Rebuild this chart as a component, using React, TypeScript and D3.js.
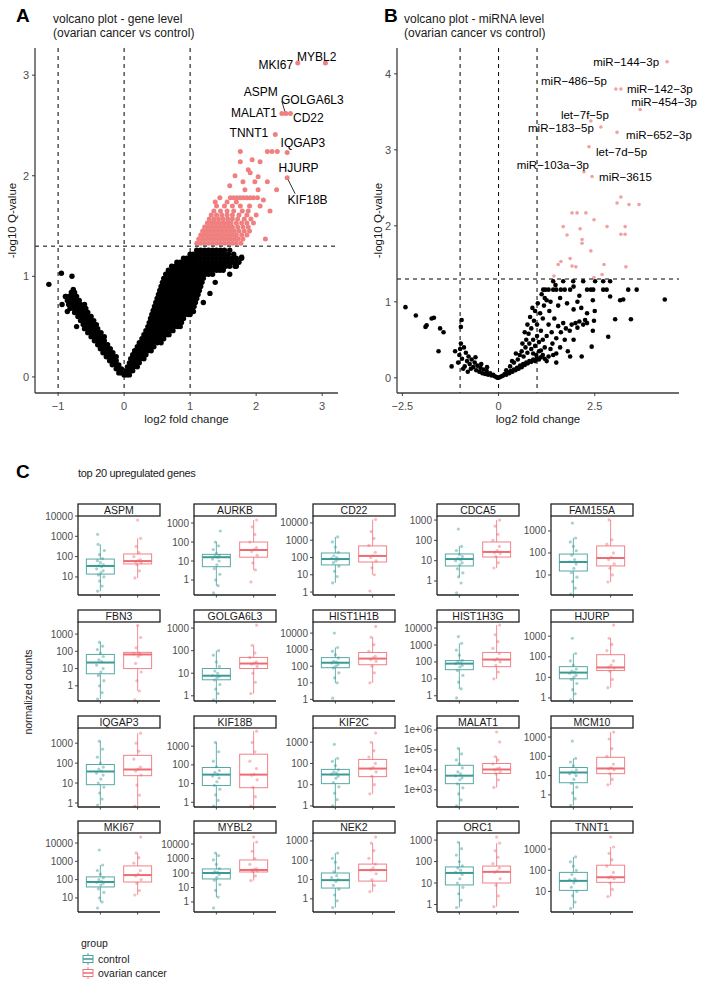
import React from "react";
import * as d3 from "d3";

const FONT = "Liberation Sans, Arial, Helvetica, sans-serif";

// ---------------- Panel A: gene-level volcano (log2 FC, -log10 Q) ----------------
// rows: [ -log10 Q , list of log2 FC values ]
const geneNsRows: [number, number[]][] = [
  [0.04, [-0.08, -0.04]], [0.08, [-0.12, -0.08, -0.04]], [0.12, [-0.18, -0.13, -0.08]],
  [0.16, [-0.22, -0.17, -0.12]], [0.2, [-0.27, -0.22, -0.17, -0.12]], [0.24, [-0.32, -0.27, -0.22, -0.17]],
  [0.28, [-0.36, -0.31, -0.26, -0.21]], [0.32, [-0.4, -0.35, -0.3, -0.25]], [0.36, [-0.45, -0.4, -0.35, -0.3]],
  [0.4, [-0.5, -0.45, -0.4, -0.35, -0.3]], [0.44, [-0.55, -0.5, -0.45, -0.4, -0.35]],
  [0.48, [-0.6, -0.55, -0.5, -0.45, -0.4]], [0.52, [-0.62, -0.57, -0.52, -0.47, -0.42]],
  [0.56, [-0.66, -0.61, -0.56, -0.51, -0.46]], [0.6, [-0.7, -0.65, -0.6, -0.55, -0.5]],
  [0.64, [-0.75, -0.7, -0.65, -0.6, -0.55]], [0.68, [-0.82, -0.76, -0.7, -0.64, -0.58]],
  [0.72, [-0.84, -0.78, -0.72, -0.66, -0.6]], [0.76, [-0.86, -0.8, -0.74, -0.68]],
  [0.8, [-0.88, -0.83, -0.78, -0.72]], [0.84, [-0.8, -0.75]],
  [0.02, [0, 0.04, 0.08]], [0.06, [0.03, 0.08, 0.13]], [0.1, [0.05, 0.1, 0.15, 0.2]],
  [0.14, [0.08, 0.13, 0.18, 0.23]], [0.18, [0.1, 0.15, 0.2, 0.25, 0.3]],
  [0.22, [0.13, 0.18, 0.23, 0.28, 0.33]], [0.26, [0.16, 0.21, 0.26, 0.31, 0.36, 0.41]],
  [0.3, [0.2, 0.25, 0.3, 0.35, 0.4, 0.45]], [0.34, [0.23, 0.28, 0.33, 0.38, 0.43, 0.5, 0.56]],
  [0.38, [0.27, 0.32, 0.37, 0.42, 0.48, 0.54, 0.6]],
  [0.42, [0.3, 0.35, 0.4, 0.45, 0.5, 0.55, 0.6, 0.65, 0.68]],
  [0.46, [0.33, 0.38, 0.43, 0.48, 0.53, 0.58, 0.63, 0.68, 0.74]],
  [0.5, [0.36, 0.41, 0.46, 0.51, 0.56, 0.61, 0.66, 0.71, 0.76, 0.81, 0.85]],
  [0.54, [0.38, 0.43, 0.48, 0.53, 0.58, 0.63, 0.68, 0.73, 0.78, 0.83, 0.87]],
  [0.58, [0.4, 0.45, 0.5, 0.55, 0.6, 0.65, 0.7, 0.75, 0.8, 0.85, 0.9]],
  [0.62, [0.42, 0.47, 0.52, 0.57, 0.62, 0.67, 0.72, 0.77, 0.82, 0.87, 0.92, 0.97, 1.0]],
  [0.66, [0.44, 0.49, 0.54, 0.59, 0.64, 0.69, 0.74, 0.79, 0.84, 0.89, 0.94, 0.99, 1.03]],
  [0.7, [0.46, 0.51, 0.56, 0.61, 0.66, 0.71, 0.76, 0.81, 0.86, 0.91, 0.96, 1.01, 1.06]],
  [0.74, [0.48, 0.53, 0.58, 0.63, 0.68, 0.73, 0.78, 0.83, 0.88, 0.93, 0.98, 1.03, 1.08]],
  [0.78, [0.5, 0.55, 0.6, 0.65, 0.7, 0.75, 0.8, 0.85, 0.9, 0.95, 1.0, 1.05, 1.1]],
  [0.82, [0.52, 0.57, 0.62, 0.67, 0.72, 0.77, 0.82, 0.87, 0.92, 0.97, 1.02, 1.07, 1.12]],
  [0.86, [0.54, 0.59, 0.64, 0.69, 0.74, 0.79, 0.84, 0.89, 0.94, 0.99, 1.04, 1.09, 1.14]],
  [0.9, [0.56, 0.61, 0.66, 0.71, 0.76, 0.81, 0.86, 0.91, 0.96, 1.01, 1.06, 1.11, 1.16]],
  [0.94, [0.58, 0.63, 0.68, 0.73, 0.78, 0.83, 0.88, 0.93, 0.98, 1.03, 1.08, 1.13, 1.18]],
  [0.98, [0.6, 0.65, 0.7, 0.75, 0.8, 0.85, 0.9, 0.95, 1.0, 1.05, 1.1, 1.15, 1.2]],
  [1.02, [0.63, 0.68, 0.73, 0.78, 0.83, 0.88, 0.93, 0.98, 1.03, 1.08, 1.13, 1.18, 1.23, 1.28, 1.34]],
  [1.06, [0.67, 0.72, 0.77, 0.82, 0.87, 0.92, 0.97, 1.02, 1.07, 1.12, 1.17, 1.22, 1.28, 1.34, 1.4, 1.45, 1.5]],
  [1.1, [0.72, 0.77, 0.82, 0.87, 0.92, 0.97, 1.02, 1.07, 1.12, 1.18, 1.24, 1.3, 1.36, 1.42, 1.48, 1.54, 1.6, 1.68]],
  [1.14, [0.8, 0.85, 0.9, 0.95, 1.0, 1.05, 1.1, 1.16, 1.22, 1.28, 1.34, 1.4, 1.46, 1.52, 1.58, 1.64, 1.7, 1.74]],
  [1.18, [0.9, 0.95, 1.0, 1.05, 1.1, 1.16, 1.22, 1.28, 1.34, 1.4, 1.46, 1.52, 1.58, 1.64, 1.7, 1.78]],
  [1.22, [1.0, 1.05, 1.1, 1.16, 1.22, 1.28, 1.34, 1.4, 1.46, 1.52, 1.58, 1.66]],
  [1.26, [1.1, 1.16, 1.22, 1.28, 1.34, 1.4, 1.46, 1.52, 1.6]],
];
const geneNsExtra: [number, number][] = [
  [-1.14, 0.92], [-0.95, 1.03], [-0.79, 1.0], [-0.94, 0.72], [-0.77, 0.87], [-0.89, 0.8],
  [-0.86, 0.65], [-0.72, 0.5], [1.38, 0.94], [1.3, 0.83], [1.5, 1.08], [1.05, 0.65], [1.2, 0.74],
  [1.78, 1.19], [1.6, 1.02], [1.7, 1.1],
];
const geneSigRows: [number, number[]][] = [
  [1.33, [1.1, 1.16, 1.22, 1.28, 1.34, 1.4, 1.46, 1.52, 1.58, 1.64, 1.7, 1.77]],
  [1.37, [1.13, 1.19, 1.25, 1.31, 1.37, 1.43, 1.49, 1.55, 1.61, 1.67, 1.73, 1.8, 2.14]],
  [1.41, [1.16, 1.22, 1.28, 1.34, 1.4, 1.46, 1.52, 1.58, 1.64, 1.7, 1.78, 1.86]],
  [1.45, [1.19, 1.25, 1.31, 1.37, 1.43, 1.49, 1.55, 1.61, 1.67, 1.74, 1.82, 1.9]],
  [1.49, [1.22, 1.28, 1.34, 1.4, 1.46, 1.52, 1.58, 1.64, 1.72, 1.8, 1.88]],
  [1.53, [1.26, 1.32, 1.38, 1.44, 1.5, 1.56, 1.62, 1.7, 1.78, 1.86, 1.96]],
  [1.57, [1.29, 1.36, 1.43, 1.5, 1.57, 1.64, 1.72, 1.82, 1.92]],
  [1.61, [1.32, 1.4, 1.48, 1.56, 1.64, 1.74, 1.86, 2.0]],
  [1.65, [1.36, 1.46, 1.56, 1.66, 1.79, 1.88, 2.21]],
  [1.7, [1.4, 1.52, 1.64, 1.76, 1.9, 2.06]],
  [1.74, [1.38, 1.56, 1.7]],
  [1.78, [1.45, 1.61, 1.66, 1.71, 1.76, 1.81, 1.86, 1.91, 1.96, 2.02]],
];
const geneSigExtra: [number, number][] = [
  [2.11, 1.76], [1.83, 1.86], [2.03, 1.86], [2.31, 1.86], [1.8, 1.94], [1.98, 1.94], [2.17, 1.94],
  [2.03, 1.99], [1.91, 2.03], [1.88, 2.06], [1.76, 2.14], [1.94, 2.16], [2.06, 2.14], [1.76, 2.24],
  [2.17, 2.24], [2.24, 2.24], [2.32, 2.24], [2.47, 2.23], [2.29, 2.41], [2.39, 2.62], [2.45, 2.62],
  [2.52, 2.62], [2.63, 3.12], [3.05, 3.12], [2.47, 1.98], [1.6, 1.9], [1.68, 2.0],
];
const geneLabelNames = ["MYBL2", "MKI67", "ASPM", "GOLGA6L3", "MALAT1", "CD22", "TNNT1", "IQGAP3", "HJURP", "KIF18B"];
const geneLabelFc = [3.05, 2.63, 2.45, 2.49, 2.39, 2.52, 2.29, 2.47, 2.47, 2.47];
const geneLabelQ = [3.12, 3.12, 2.62, 2.62, 2.62, 2.62, 2.41, 2.23, 1.98, 1.98];

// ---------------- Panel B: miRNA-level volcano ----------------
const mirNs: [number, number][] = [
  [-2.42, 0.93], [-2.15, 0.82], [-1.9, 0.67], [-1.87, 0.69], [-1.74, 0.78], [-1.68, 0.79], [-1.52, 0.65],
  [-1.43, 0.6], [-1.56, 0.35], [-1.22, 0.15], [-1.13, 0.35], [-0.96, 0.76], [-0.98, 0.67], [-1.0, 0.38],
  [-1.02, 0.3], [-0.95, 0.25], [-0.9, 0.4], [-0.85, 0.33], [-0.82, 0.22], [-0.78, 0.28], [-0.75, 0.18],
  [-0.7, 0.24], [-0.66, 0.14], [-0.62, 0.2], [-0.58, 0.1], [-0.55, 0.16], [-0.5, 0.08], [-0.47, 0.13],
  [-0.42, 0.06], [-0.4, 0.11], [-0.35, 0.05], [-0.31, 0.09], [-0.27, 0.04], [-0.22, 0.06], [-0.18, 0.03],
  [-0.14, 0.04], [-0.1, 0.02], [-0.06, 0.01], [-0.03, 0.0], [0.0, 0.0], [-0.88, 0.15], [-0.92, 0.12],
  [-0.6, 0.27], [-0.72, 0.12], [-0.8, 0.08], [-0.45, 0.18], [-0.3, 0.14], [-1.05, 0.2], [-0.98, 0.45],
  [0.04, 0.01], [0.08, 0.02], [0.12, 0.03], [0.16, 0.05], [0.2, 0.04], [0.24, 0.07], [0.28, 0.06],
  [0.32, 0.09], [0.36, 0.08], [0.4, 0.11], [0.44, 0.1], [0.48, 0.13], [0.52, 0.12], [0.56, 0.16],
  [0.6, 0.14], [0.64, 0.18], [0.68, 0.17], [0.72, 0.2], [0.76, 0.19], [0.8, 0.22], [0.85, 0.21],
  [0.9, 0.24], [0.95, 0.22], [1.0, 0.26], [1.05, 0.24], [1.1, 0.27], [1.2, 0.25], [1.3, 0.28],
  [1.42, 0.3], [1.5, 0.32], [0.2, 0.1], [0.3, 0.15], [0.4, 0.2], [0.5, 0.24], [0.55, 0.3], [0.6, 0.35],
  [0.65, 0.28], [0.7, 0.4], [0.75, 0.33], [0.8, 0.45], [0.85, 0.38], [0.9, 0.5], [0.95, 0.42],
  [1.0, 0.55], [1.05, 0.47], [1.1, 0.36], [1.15, 0.3], [1.2, 0.4], [0.45, 0.32], [0.35, 0.22],
  [0.62, 0.45], [0.72, 0.5], [0.68, 0.6], [0.78, 0.58], [0.75, 0.7], [0.85, 0.65], [0.82, 0.8],
  [0.88, 0.92], [0.92, 0.75], [0.95, 0.88], [1.0, 0.7], [1.02, 0.98], [1.08, 0.85], [1.1, 0.62],
  [1.15, 0.78], [1.18, 0.95], [1.25, 0.55], [1.3, 0.7], [1.32, 0.88], [1.38, 0.6], [1.4, 0.45],
  [1.45, 0.78], [1.5, 0.52], [1.55, 0.68], [1.6, 0.4], [1.62, 0.6], [1.68, 0.72], [1.72, 0.5],
  [1.75, 0.65], [1.8, 0.35], [1.85, 0.62], [1.9, 0.7], [1.95, 0.5], [2.0, 0.72], [2.05, 0.66],
  [2.1, 0.74], [2.16, 0.28], [2.2, 0.7], [2.25, 0.76], [2.3, 0.72], [1.86, 0.28], [1.5, 0.2],
  [1.35, 0.38], [1.25, 1.02], [1.35, 1.0], [1.55, 0.95], [1.6, 1.05], [1.78, 0.98], [1.95, 0.9],
  [2.05, 1.0], [2.15, 0.92], [2.3, 0.85], [2.42, 0.41], [2.45, 0.62], [2.48, 0.75], [2.5, 0.88],
  [2.45, 1.02], [2.85, 0.54], [3.03, 0.77], [3.44, 0.77], [3.16, 1.02], [3.24, 1.03], [2.9, 1.07],
  [4.32, 1.03], [1.16, 1.16], [1.22, 1.16], [1.3, 1.16], [1.42, 1.16], [1.5, 1.16], [1.62, 1.16],
  [1.72, 1.16], [1.86, 1.16], [2.3, 1.16], [2.4, 1.16], [2.46, 1.16], [2.72, 1.16], [2.81, 1.16],
  [3.37, 1.16], [3.59, 1.16], [1.42, 1.27], [1.68, 1.27], [1.94, 1.27], [2.2, 1.27], [2.51, 1.27],
  [2.72, 1.27], [2.9, 1.27], [1.12, 1.1], [1.2, 1.05], [1.48, 1.22], [1.95, 1.2], [2.1, 1.08],
  [1.05, 0.35], [1.15, 0.5], [0.98, 0.3], [0.9, 0.32], [1.25, 0.22],
];
const mirSig: [number, number][] = [
  [3.18, 2.38], [3.08, 2.3], [3.39, 2.28], [3.65, 2.28], [1.91, 2.17], [2.04, 2.17], [2.27, 2.17],
  [2.48, 2.08], [1.68, 1.99], [2.12, 1.96], [2.82, 1.99], [3.29, 1.99], [1.78, 1.88], [3.18, 1.89],
  [3.29, 1.89], [2.17, 1.82], [2.17, 1.77], [2.4, 1.67], [1.62, 1.53], [1.55, 1.49], [1.86, 1.57],
  [1.91, 1.47], [2.01, 1.46], [2.74, 1.49], [3.31, 1.46], [1.44, 1.34], [2.69, 1.36], [2.48, 1.32],
];
const mirLabelNames = ["miR−144−3p", "miR−486−5p", "miR−142−3p", "miR−454−3p", "let−7f−5p",
  "miR−183−5p", "miR−652−3p", "let−7d−5p", "miR−103a−3p", "miR−3615"];
const mirLabelFc = [4.38, 3.05, 3.18, 3.68, 2.4, 2.66, 3.08, 2.35, 2.22, 2.43];
const mirLabelQ = [4.16, 3.8, 3.8, 3.53, 3.38, 3.3, 3.23, 3.04, 2.71, 2.65];

// ---------------- Panel C: boxplots (values in log10 normalized counts) ----------------
const boxGenes = ["ASPM", "AURKB", "CD22", "CDCA5", "FAM155A", "FBN3", "GOLGA6L3", "HIST1H1B", "HIST1H3G", "HJURP",
  "IQGAP3", "KIF18B", "KIF2C", "MALAT1", "MCM10", "MKI67", "MYBL2", "NEK2", "ORC1", "TNNT1"];
const groups = ["control", "ovarian cancer"];
// [whisker low, q1, median, q3, whisker high]
const ctrlStats = [
  [0.3, 1.14, 1.54, 1.88, 2.6], [-0.3, 0.7, 1.2, 1.35, 2.0], [0.53, 1.57, 1.91, 2.26, 3.19], [0.2, 0.74, 1.08, 1.33, 1.72],
  [0.13, 1.18, 1.59, 1.95, 2.68], [-0.77, 0.7, 1.35, 1.82, 2.53], [-0.18, 0.71, 0.89, 1.21, 2.0], [1.0, 1.91, 2.21, 2.52, 3.13],
  [0.41, 1.54, 1.9, 2.08, 3.1], [-0.1, 0.93, 1.23, 1.52, 2.16], [-0.1, 0.92, 1.58, 1.93, 3.1], [-0.2, 0.9, 1.48, 1.86, 3.2],
  [0.0, 1.05, 1.48, 1.72, 2.24], [2.2, 3.31, 3.71, 4.23, 5.08], [-0.55, 0.63, 1.16, 1.42, 1.89], [0.78, 1.6, 1.87, 2.15, 2.8],
  [0.34, 1.59, 2.0, 2.28, 3.38], [-0.45, 0.56, 0.97, 1.34, 2.37], [-0.14, 0.91, 1.47, 1.75, 2.9], [0.2, 1.05, 1.5, 1.9, 2.63],
];
const cancerStats = [
  [0.95, 1.64, 1.78, 2.13, 2.9], [0.53, 1.2, 1.58, 2.0, 3.16], [1.0, 1.74, 2.09, 2.67, 4.2], [0.64, 1.18, 1.43, 1.92, 3.0],
  [0.68, 1.41, 1.77, 2.32, 3.5], [-0.3, 1.0, 1.82, 1.94, 3.5], [0.1, 1.21, 1.43, 1.7, 2.24], [1.0, 2.09, 2.46, 2.83, 3.75],
  [1.0, 1.72, 2.14, 2.56, 4.18], [0.5, 1.33, 1.48, 2.1, 2.9], [-0.15, 1.37, 1.68, 2.39, 3.5], [-0.2, 0.78, 1.48, 2.57, 3.8],
  [0.57, 1.38, 1.76, 2.19, 3.0], [3.12, 3.82, 4.02, 4.32, 4.67], [0.52, 1.1, 1.37, 1.95, 3.26], [1.16, 1.87, 2.25, 2.75, 3.46],
  [1.48, 2.07, 2.21, 2.9, 4.14], [0.37, 0.92, 1.49, 1.8, 2.89], [-0.1, 1.0, 1.52, 1.79, 2.86], [0.76, 1.43, 1.67, 2.24, 3.1],
];
const ctrlPoints = [
  [0.3, 0.55, 0.8, 1.0, 1.1, 1.2, 1.3, 1.4, 1.5, 1.55, 1.6, 1.7, 1.8, 1.9, 2.1, 2.3, 2.6, 3.1],
  [-0.68, -0.3, 0.0, 0.3, 0.6, 0.8, 1.0, 1.1, 1.2, 1.25, 1.3, 1.4, 1.6, 1.8, 2.0, 2.58],
  [0.53, 0.9, 1.2, 1.5, 1.7, 1.8, 1.9, 1.95, 2.0, 2.1, 2.3, 2.6, 2.9, 3.19],
  [-0.59, -0.1, 0.2, 0.4, 0.6, 0.8, 0.9, 1.0, 1.05, 1.1, 1.2, 1.3, 1.5, 1.7, 2.56],
  [0.13, 0.4, 0.7, 0.9, 1.1, 1.3, 1.5, 1.6, 1.7, 1.9, 2.1, 2.3, 2.5, 2.68, 3.36],
  [-0.77, -0.4, 0.0, 0.3, 0.6, 0.8, 1.0, 1.2, 1.4, 1.5, 1.7, 1.9, 2.1, 2.3, 2.53],
  [-0.18, 0.1, 0.3, 0.5, 0.7, 0.8, 0.85, 0.9, 1.0, 1.1, 1.3, 1.5, 1.8, 2.0],
  [0.07, 1.0, 1.3, 1.6, 1.9, 2.0, 2.1, 2.2, 2.25, 2.3, 2.5, 2.7, 2.9, 3.13, 4.0],
  [-0.13, 0.41, 0.8, 1.2, 1.5, 1.7, 1.8, 1.9, 1.95, 2.0, 2.1, 2.4, 2.7, 3.1, 3.5],
  [-0.1, 0.2, 0.4, 0.7, 0.9, 1.0, 1.1, 1.2, 1.25, 1.3, 1.4, 1.6, 1.8, 2.16, 2.9],
  [-0.1, 0.2, 0.5, 0.8, 1.0, 1.2, 1.4, 1.5, 1.6, 1.7, 1.8, 2.0, 2.3, 2.7, 3.1],
  [-0.2, 0.1, 0.4, 0.7, 0.9, 1.1, 1.3, 1.4, 1.5, 1.6, 1.7, 1.9, 2.2, 2.7, 3.2],
  [0.0, 0.3, 0.6, 0.9, 1.1, 1.3, 1.4, 1.5, 1.55, 1.6, 1.7, 1.9, 2.1, 2.24, 2.9],
  [2.2, 2.5, 2.8, 3.1, 3.3, 3.5, 3.6, 3.7, 3.8, 3.9, 4.1, 4.3, 4.5, 4.8, 5.08],
  [-0.55, -0.2, 0.1, 0.4, 0.6, 0.8, 1.0, 1.1, 1.15, 1.2, 1.3, 1.5, 1.7, 1.89, 2.79],
  [0.45, 0.78, 1.0, 1.3, 1.5, 1.7, 1.8, 1.85, 1.9, 2.0, 2.1, 2.3, 2.5, 2.8, 3.62],
  [-0.41, 0.34, 0.8, 1.2, 1.5, 1.7, 1.9, 2.0, 2.05, 2.1, 2.3, 2.6, 2.9, 3.2, 3.38],
  [-0.45, -0.1, 0.2, 0.5, 0.7, 0.9, 1.0, 1.1, 1.2, 1.4, 1.6, 1.9, 2.1, 2.37],
  [-0.14, 0.2, 0.5, 0.8, 1.0, 1.2, 1.4, 1.5, 1.6, 1.7, 1.8, 2.0, 2.3, 2.6, 2.9],
  [0.2, 0.5, 0.8, 1.0, 1.2, 1.4, 1.5, 1.55, 1.6, 1.8, 2.0, 2.2, 2.4, 2.63],
];
const cancerPoints = [
  [0.95, 1.3, 1.6, 1.7, 1.75, 1.8, 1.85, 2.0, 2.2, 2.5, 2.9, 3.8],
  [-0.1, 0.53, 0.9, 1.3, 1.5, 1.6, 1.7, 2.0, 2.4, 2.8, 3.16],
  [0.06, 1.0, 1.4, 1.8, 2.0, 2.1, 2.3, 2.7, 3.1, 3.5, 4.2],
  [0.64, 0.9, 1.2, 1.35, 1.4, 1.5, 1.7, 2.0, 2.3, 2.7, 3.0],
  [0.68, 1.0, 1.3, 1.5, 1.7, 1.8, 2.0, 2.4, 2.6, 3.5],
  [-0.82, -0.3, 0.3, 0.8, 1.3, 1.7, 1.8, 1.85, 1.9, 2.2, 2.8, 3.5],
  [0.1, 0.6, 1.0, 1.3, 1.4, 1.45, 1.5, 1.7, 1.9, 2.24, 3.13],
  [1.0, 1.6, 2.0, 2.3, 2.4, 2.5, 2.6, 2.9, 3.3, 3.75, 4.4],
  [1.0, 1.4, 1.8, 2.0, 2.1, 2.2, 2.5, 2.8, 3.2, 3.6, 4.18],
  [0.5, 0.9, 1.3, 1.45, 1.5, 1.6, 1.8, 2.3, 2.6, 2.9, 3.54],
  [-0.15, 0.4, 0.9, 1.4, 1.6, 1.7, 1.8, 2.2, 2.6, 3.0, 3.5],
  [-0.2, 0.3, 0.8, 1.2, 1.45, 1.5, 1.8, 2.2, 2.7, 3.2, 3.8],
  [0.57, 1.0, 1.4, 1.6, 1.75, 1.8, 2.0, 2.3, 2.6, 3.0, 3.43],
  [3.12, 3.5, 3.8, 3.9, 4.0, 4.05, 4.1, 4.3, 4.5, 4.67, 5.4, 5.9],
  [0.52, 0.8, 1.1, 1.3, 1.35, 1.4, 1.6, 2.0, 2.4, 2.9, 3.26],
  [1.16, 1.4, 1.8, 2.0, 2.2, 2.3, 2.5, 2.9, 3.2, 3.46, 4.33],
  [1.48, 1.8, 2.1, 2.15, 2.2, 2.25, 2.3, 2.6, 3.0, 3.5, 4.14, 4.48],
  [0.37, 0.7, 1.0, 1.3, 1.5, 1.6, 1.8, 2.1, 2.5, 2.89, 3.2],
  [-0.1, 0.4, 0.9, 1.2, 1.5, 1.55, 1.7, 1.9, 2.2, 2.5, 2.86, 3.14],
  [0.76, 1.1, 1.4, 1.6, 1.65, 1.7, 1.9, 2.2, 2.5, 2.8, 3.1, 3.57],
];
// y-axis limits per facet (log10)
const yLimits = [
  [0.11, 4.0], [-0.79, 3.37], [-0.17, 4.4], [-0.69, 3.2], [0.09, 3.68],
  [-0.88, 3.7], [-0.23, 3.27], [-0.1, 4.67], [-0.31, 4.36], [-0.15, 3.69],
  [-0.2, 3.76], [-0.25, 3.97], [-0.05, 3.67], [2.14, 6.1], [-0.63, 3.47],
  [0.23, 4.55], [-0.69, 4.76], [-0.68, 3.41], [-0.35, 3.33], [0.03, 3.76],
];

// ---------------- layout / style ----------------
const COL_CTRL = "#3a9a95";
const COL_CANC = "#ee6b73";
const geneLabelLayout: [number, number, string][] = [
  [-28.5, -2, "start"], [-4.5, 6, "end"], [-8, -17, "end"], [-7.5, -9, "start"], [-5, 4, "end"],
  [2.5, 9, "start"], [-7, 2, "end"], [-6.6, -5.6, "start"], [-8.6, -6, "start"], [0.4, 26, "start"],
];
const mirLabelLayout: [number, number, string][] = [
  [-8, 4, "end"], [-9, -4, "end"], [6, 4, "start"], [-9, -4, "start"], [-30, -2, "start"],
  [-7, 5, "end"], [9, 6.5, "start"], [7, 9, "start"], [5, -3, "end"], [7, 5, "start"],
];
const JIT = [-0.55, 0.35, -0.15, 0.7, -0.4, 0.1, 0.55, -0.75, 0.25, -0.3, 0.6, 0.0, -0.6, 0.45, -0.2, 0.8, -0.45];
const colLefts = [78, 194, 313, 437, 551];
const rowTops = [504, 610, 716, 821];
const PANEL_W = 82, STRIP_H = 12, PANEL_H = 79;

const flatRows = (rows: [number, number[]][]) =>
  rows.flatMap(([q, xs]) => xs.map((fc) => [fc, q] as [number, number]));

function fmtTick(v: number) {
  if (Math.abs(v) < 1e-9) return Number.isInteger(v) ? "0" : "0.0";
  const s = Number.isInteger(v) ? String(v) : v.toFixed(1);
  return s.replace("-", "−");
}

function Volcano(props: any) {
  const { x, y, xTicks, yTicks, xFmt, ns, sig, sigColor, sigR, nsR, labels, labelSize, letter, lx, tx, yTitleX } = props;
  const [x0, x1] = x.range();
  const [yb, yt] = y.range();
  const axisCol = "#3c3c3c";
  return (
    <g>
      <text x={lx} y={22} fontSize={19} fontWeight="bold" fill="#000">{letter}</text>
      <text x={tx} y={22.5} fontSize={12} fill="#1a1a1a">{props.title1}</text>
      <text x={tx} y={37} fontSize={12} fill="#1a1a1a">(ovarian cancer vs control)</text>
      {ns.map((d: [number, number], i: number) => (
        <circle key={"n" + i} cx={x(d[0])} cy={y(d[1])} r={nsR} fill="#000" />
      ))}
      {sig.map((d: [number, number], i: number) => (
        <circle key={"s" + i} cx={x(d[0])} cy={y(d[1])} r={sigR} fill={sigColor} />
      ))}
      {[-1, 0, 1].map((v) => (
        <line key={"v" + v} x1={x(v)} x2={x(v)} y1={yt} y2={yb} stroke="#000" strokeWidth={1} strokeDasharray="4,4" />
      ))}
      <line x1={x0} x2={x1} y1={y(1.3)} y2={y(1.3)} stroke="#000" strokeWidth={1} strokeDasharray="4,4" />
      <line x1={x0} x2={x0} y1={yt} y2={yb} stroke={axisCol} strokeWidth={1.3} />
      <line x1={x0} x2={x1} y1={yb} y2={yb} stroke={axisCol} strokeWidth={1.3} />
      {yTicks.map((t: number) => (
        <g key={"yt" + t}>
          <line x1={x0 - 3} x2={x0} y1={y(t)} y2={y(t)} stroke={axisCol} strokeWidth={1} />
          <text x={x0 - 6} y={y(t)} dy="0.35em" textAnchor="end" fontSize={11} fill="#4d4d4d">{t}</text>
        </g>
      ))}
      {xTicks.map((t: number) => (
        <g key={"xt" + t}>
          <line x1={x(t)} x2={x(t)} y1={yb} y2={yb + 3} stroke={axisCol} strokeWidth={1} />
          <text x={x(t)} y={410} textAnchor="middle" fontSize={11} fill="#4d4d4d">{xFmt(t)}</text>
        </g>
      ))}
      <text x={(x0 + x1) / 2} y={423} textAnchor="middle" fontSize={11.5} fill="#1a1a1a">log2 fold change</text>
      <text transform={`translate(${yTitleX},${(yt + yb) / 2}) rotate(-90)`} textAnchor="middle" fontSize={11.5} fill="#1a1a1a">-log10 Q-value</text>
      {labels.map((l: any, i: number) => {
        const px = x(l.fc), py = y(l.q);
        return (
          <g key={"lab" + i}>
            {l.seg && <line x1={px + l.seg[0]} y1={py + l.seg[1]} x2={px + l.seg[2]} y2={py + l.seg[3]} stroke="#000" strokeWidth={0.8} />}
            <text x={px + l.dx} y={py + l.dy} textAnchor={l.anchor} fontSize={labelSize} fill="#000">{l.name}</text>
          </g>
        );
      })}
    </g>
  );
}

function Facet({ i }: { i: number }) {
  const col = i % 5, row = Math.floor(i / 5);
  const left = colLefts[col];
  const stripTop = rowTops[row];
  const top = stripTop + STRIP_H, bottom = top + PANEL_H;
  const x = d3.scalePoint<string>().domain(groups).range([left, left + PANEL_W]).padding(0.6);
  const bw = x.step() * 0.75;
  const [lo, hi] = yLimits[i];
  const y = d3.scaleLinear().domain([lo, hi]).range([bottom, top]);
  const ticks = d3.range(Math.ceil(lo - 1e-6), Math.floor(hi + 0.02) + 1);
  const sci = ticks[ticks.length - 1] >= 5;
  const fmt = (t: number) => (sci ? `1e+${String(t).padStart(2, "0")}` : String(Math.round(Math.pow(10, t))));
  const sets = [
    { g: groups[0], s: ctrlStats[i], p: ctrlPoints[i], c: COL_CTRL },
    { g: groups[1], s: cancerStats[i], p: cancerPoints[i], c: COL_CANC },
  ];
  return (
    <g>
      <rect x={left} y={stripTop} width={PANEL_W} height={STRIP_H} fill="#fff" stroke="#222" strokeWidth={1.3} />
      <text x={left + PANEL_W / 2} y={stripTop + 10} textAnchor="middle" fontSize={10.5} fill="#1a1a1a">{boxGenes[i]}</text>
      {sets.map((d, k) => {
        const cx = x(d.g) as number;
        const [wl, q1, md, q3, wh] = d.s;
        return (
          <g key={k}>
            <line x1={cx} x2={cx} y1={y(q3)} y2={y(wh)} stroke={d.c} strokeWidth={0.9} strokeOpacity={0.85} />
            <line x1={cx} x2={cx} y1={y(q1)} y2={y(wl)} stroke={d.c} strokeWidth={0.9} strokeOpacity={0.85} />
            <rect x={cx - bw / 2} y={y(q3)} width={bw} height={y(q1) - y(q3)} fill="none" stroke={d.c} strokeWidth={1} strokeOpacity={0.85} />
            <line x1={cx - bw / 2} x2={cx + bw / 2} y1={y(md)} y2={y(md)} stroke={d.c} strokeWidth={2} />
            {d.p.map((v, j) => (
              <circle key={j} cx={cx + JIT[j % JIT.length] * 5} cy={y(v)} r={1.6} fill={d.c} fillOpacity={0.45} />
            ))}
          </g>
        );
      })}
      <line x1={left} x2={left} y1={top} y2={bottom} stroke="#222" strokeWidth={1.3} />
      <line x1={left} x2={left + PANEL_W} y1={bottom} y2={bottom} stroke="#222" strokeWidth={1.3} />
      {groups.map((g) => (
        <line key={g} x1={x(g) as number} x2={x(g) as number} y1={bottom} y2={bottom + 2.5} stroke="#333" strokeWidth={0.9} />
      ))}
      {ticks.map((t) => (
        <g key={t}>
          <line x1={left - 3} x2={left} y1={y(t)} y2={y(t)} stroke="#333" strokeWidth={0.9} />
          <text x={left - 5} y={y(t)} dy="0.35em" textAnchor="end" fontSize={10} fill="#4d4d4d">{fmt(t)}</text>
        </g>
      ))}
    </g>
  );
}

export default function App() {
  const xA = d3.scaleLinear().domain([-1.35, 3.24]).range([35, 338]);
  const yA = d3.scaleLinear().domain([-0.16, 3.27]).range([393, 48]);
  const xB = d3.scaleLinear().domain([-2.64, 4.69]).range([397, 679]);
  const yB = d3.scaleLinear().domain([-0.2, 4.34]).range([393, 48]);

  const geneNs = [...flatRows(geneNsRows), ...geneNsExtra];
  const geneSig = [...flatRows(geneSigRows), ...geneSigExtra];
  const geneSegs: Record<string, number[]> = { ASPM: [-4, -12, -1, -2], KIF18B: [1, 2, 8, 16] };
  const geneLabels = geneLabelNames.map((name, i) => ({
    name, fc: geneLabelFc[i], q: geneLabelQ[i],
    dx: geneLabelLayout[i][0], dy: geneLabelLayout[i][1], anchor: geneLabelLayout[i][2], seg: geneSegs[name],
  }));
  const mirLabels = mirLabelNames.map((name, i) => ({
    name, fc: mirLabelFc[i], q: mirLabelQ[i],
    dx: mirLabelLayout[i][0], dy: mirLabelLayout[i][1], anchor: mirLabelLayout[i][2],
  }));
  const mirSigAll = [...mirSig, ...mirLabelFc.map((fc, i) => [fc, mirLabelQ[i]] as [number, number])];

  return (
    <svg width={709} height={987} style={{ position: "absolute", left: 0, top: 0, background: "#fff" }} fontFamily={FONT}>
      <rect x={0} y={0} width={709} height={987} fill="#fff" />
      <Volcano x={xA} y={yA} xTicks={[-1, 0, 1, 2, 3]} yTicks={[0, 1, 2, 3]} xFmt={fmtTick}
        ns={geneNs} sig={geneSig} sigColor="#f08080" sigR={2.5} nsR={2.7} labels={geneLabels} labelSize={12}
        letter="A" lx={16} tx={53} yTitleX={15.5} title1="volcano plot - gene level" />
      <Volcano x={xB} y={yB} xTicks={[-2.5, 0, 2.5]} yTicks={[0, 1, 2, 3, 4]} xFmt={fmtTick}
        ns={mirNs} sig={mirSigAll} sigColor="#f2a0a0" sigR={1.8} nsR={2.3} labels={mirLabels} labelSize={11.5}
        letter="B" lx={384} tx={404} yTitleX={382} title1="volcano plot - miRNA level" />

      <text x={16} y={478} fontSize={19} fontWeight="bold" fill="#000">C</text>
      <text x={78} y={477} fontSize={11} fill="#1a1a1a" letterSpacing={-0.3}>top 20 upregulated genes</text>
      <text transform="translate(32,692) rotate(-90)" textAnchor="middle" fontSize={10.5} fill="#1a1a1a">normalized counts</text>
      {boxGenes.map((g, i) => <Facet key={g} i={i} />)}

      <text x={81} y={947} fontSize={10.5} fill="#1a1a1a">group</text>
      {groups.map((g, k) => {
        const cy = 959 + k * 14;
        const c = k === 0 ? COL_CTRL : COL_CANC;
        return (
          <g key={g}>
            <line x1={88} x2={88} y1={cy - 6} y2={cy + 6} stroke={c} strokeWidth={0.9} />
            <rect x={83} y={cy - 3.5} width={10} height={7} fill="#fff" stroke={c} strokeWidth={0.9} />
            <line x1={83} x2={93} y1={cy} y2={cy} stroke={c} strokeWidth={1.5} />
            <text x={98} y={cy + 3.5} fontSize={10.5} fill="#1a1a1a">{g}</text>
          </g>
        );
      })}
    </svg>
  );
}
